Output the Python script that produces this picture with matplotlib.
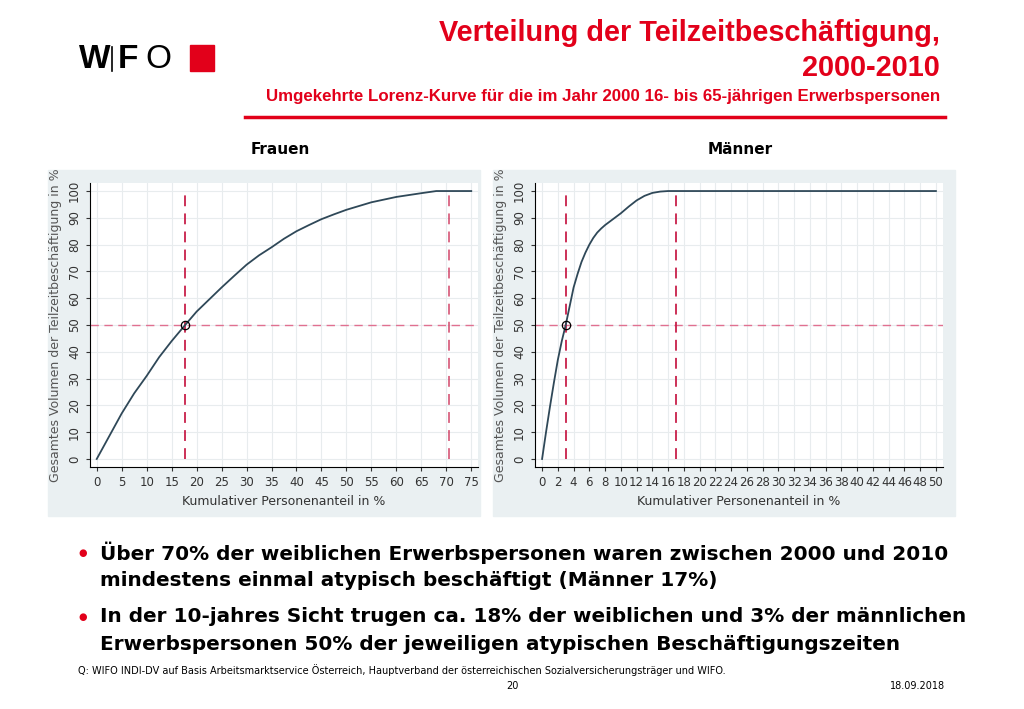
import matplotlib
matplotlib.use("Agg")
import matplotlib.pyplot as plt
from matplotlib.patches import Rectangle

f_x = [0, 2.5, 5, 7.5, 10, 12.5, 15, 17.7, 20, 22.5, 25, 27.5, 30, 32.5, 35, 37.5, 40, 42.5, 45, 47.5, 50, 55, 60, 65, 68, 75]
f_y = [0, 8.5, 17, 24.5, 31, 38, 44, 50, 55, 59.5, 64, 68.3, 72.5, 76, 79, 82.2, 85, 87.3, 89.5, 91.3, 93, 95.8, 97.8, 99.2, 100, 100]
m_x = [0, 0.5, 1, 1.5, 2, 2.5, 3, 3.5, 4, 4.5, 5, 5.5, 6, 6.5, 7, 7.5, 8, 9, 10, 11, 12, 13, 14, 15, 16, 50]
m_y = [0, 10, 19.5, 28.5, 37, 44, 50, 57, 64, 69, 73.5, 77, 80, 82.5, 84.5, 86, 87.3, 89.5, 91.7, 94.2, 96.5, 98.2, 99.3, 99.8, 100, 100]
f_half = 17.7; f_full = 70.5
m_half = 3.0; m_full = 17.0

RED = "#e2001a"
fig = plt.figure(figsize=(10.24, 7.09), dpi=100)
W, H = 1024, 709
def ax_rect(l, t, r, b):
    return [l / W, 1 - b / H, (r - l) / W, (b - t) / H]

lg = dict(fontsize=24, color="black", va="center", family="Liberation Sans")
fig.text(79/W, 1-59/H, "W", fontweight="bold", **lg)
fig.add_artist(plt.Line2D([112/W, 112/W], [1-47/H, 1-71/H], color="black", lw=1.2))
fig.text(118/W, 1-59/H, "F", fontweight="bold", **lg)
fig.text(145/W, 1-59/H, "O", **lg)
fig.patches.append(Rectangle((190/W, 1-71/H), 24/W, 26/H, transform=fig.transFigure, color=RED))

fig.text(940/W, 1-33/H, "Verteilung der Teilzeitbeschäftigung,", fontsize=20.8, fontweight="bold", color=RED, ha="right", va="center", family="Liberation Sans")
fig.text(940/W, 1-68/H, "2000-2010", fontsize=20.8, fontweight="bold", color=RED, ha="right", va="center", family="Liberation Sans")
fig.text(940/W, 1-96/H, "Umgekehrte Lorenz-Kurve für die im Jahr 2000 16- bis 65-jährigen Erwerbspersonen", fontsize=12.2, fontweight="bold", color=RED, ha="right", va="center", family="Liberation Sans")
fig.add_artist(plt.Line2D([245/W, 945/W], [1-117/H, 1-117/H], color=RED, lw=2.5))

fig.text(280/W, 1-150/H, "Frauen", fontsize=11, fontweight="bold", ha="center", va="center")
fig.text(740/W, 1-150/H, "Männer", fontsize=11, fontweight="bold", ha="center", va="center")

BG = "#eaf0f2"
fig.patches.append(Rectangle((48/W, 1-516/H), 432/W, 346/H, transform=fig.transFigure, color=BG, zorder=-10))
fig.patches.append(Rectangle((493/W, 1-516/H), 462/W, 346/H, transform=fig.transFigure, color=BG, zorder=-10))

def panel(rect, xs, ys, half, full, xmax, xticks, full_alpha):
    ax = fig.add_axes(rect, zorder=5)
    ax.set_facecolor("white")
    ax.plot(xs, ys, color="#2f4858", lw=1.3, zorder=3)
    ax.axhline(50, color="#e07090", ls=(0, (6, 4)), lw=1)
    ax.plot([half, half], [0, 100], color="#c8204a", ls=(0, (6, 4)), lw=1.3)
    ax.plot([full, full], [0, 100], color="#c8204a", ls=(0, (6, 4)), lw=1.3, alpha=full_alpha)
    ax.plot([half], [50], marker="o", mfc="none", mec="black", ms=6, mew=0.9, zorder=4)
    ax.set_xticks(xticks)
    ax.set_yticks(range(0, 101, 10))
    ax.grid(color="#e8ecee", lw=0.8)
    ax.set_axisbelow(True)
    pad = xmax * 0.018
    ax.set_xlim(-pad, xmax + pad)
    ax.set_ylim(-3, 103)
    for s in ["top", "right"]:
        ax.spines[s].set_visible(False)
    for t in ax.get_yticklabels():
        t.set_rotation(90); t.set_va("center")
    ax.tick_params(labelsize=8.5, length=3, colors="#333333")
    ax.set_xlabel("Kumulativer Personenanteil in %", fontsize=9, color="#333333")
    ax.set_ylabel("Gesamtes Volumen der Teilzeitbeschäftigung in %", fontsize=9, color="#555555")
    return ax

panel(ax_rect(90, 183, 478, 467), f_x, f_y, f_half, f_full, 75, list(range(0, 76, 5)), 0.7)
panel(ax_rect(535, 183, 943, 467), m_x, m_y, m_half, m_full, 50, list(range(0, 51, 2)), 1.0)

b = dict(fontsize=14.4, fontweight="bold", va="center", family="DejaVu Sans")
fig.text(78/W, 1-553/H, "●", fontsize=7, color=RED, va="center")
fig.text(100/W, 1-553/H, "Über 70% der weiblichen Erwerbspersonen waren zwischen 2000 und 2010", **b)
fig.text(100/W, 1-581/H, "mindestens einmal atypisch beschäftigt (Männer 17%)", **b)
fig.text(78/W, 1-617/H, "●", fontsize=7, color=RED, va="center")
fig.text(100/W, 1-617/H, "In der 10-jahres Sicht trugen ca. 18% der weiblichen und 3% der männlichen", **b)
fig.text(100/W, 1-645/H, "Erwerbspersonen 50% der jeweiligen atypischen Beschäftigungszeiten", **b)
fig.text(78/W, 1-670/H, "Q: WIFO INDI-DV auf Basis Arbeitsmarktservice Österreich, Hauptverband der österreichischen Sozialversicherungsträger und WIFO.", fontsize=7, va="center")
fig.text(512/W, 1-686/H, "20", fontsize=7, ha="center", va="center")
fig.text(945/W, 1-686/H, "18.09.2018", fontsize=7, ha="right", va="center")

fig.savefig("out.png", dpi=100)
